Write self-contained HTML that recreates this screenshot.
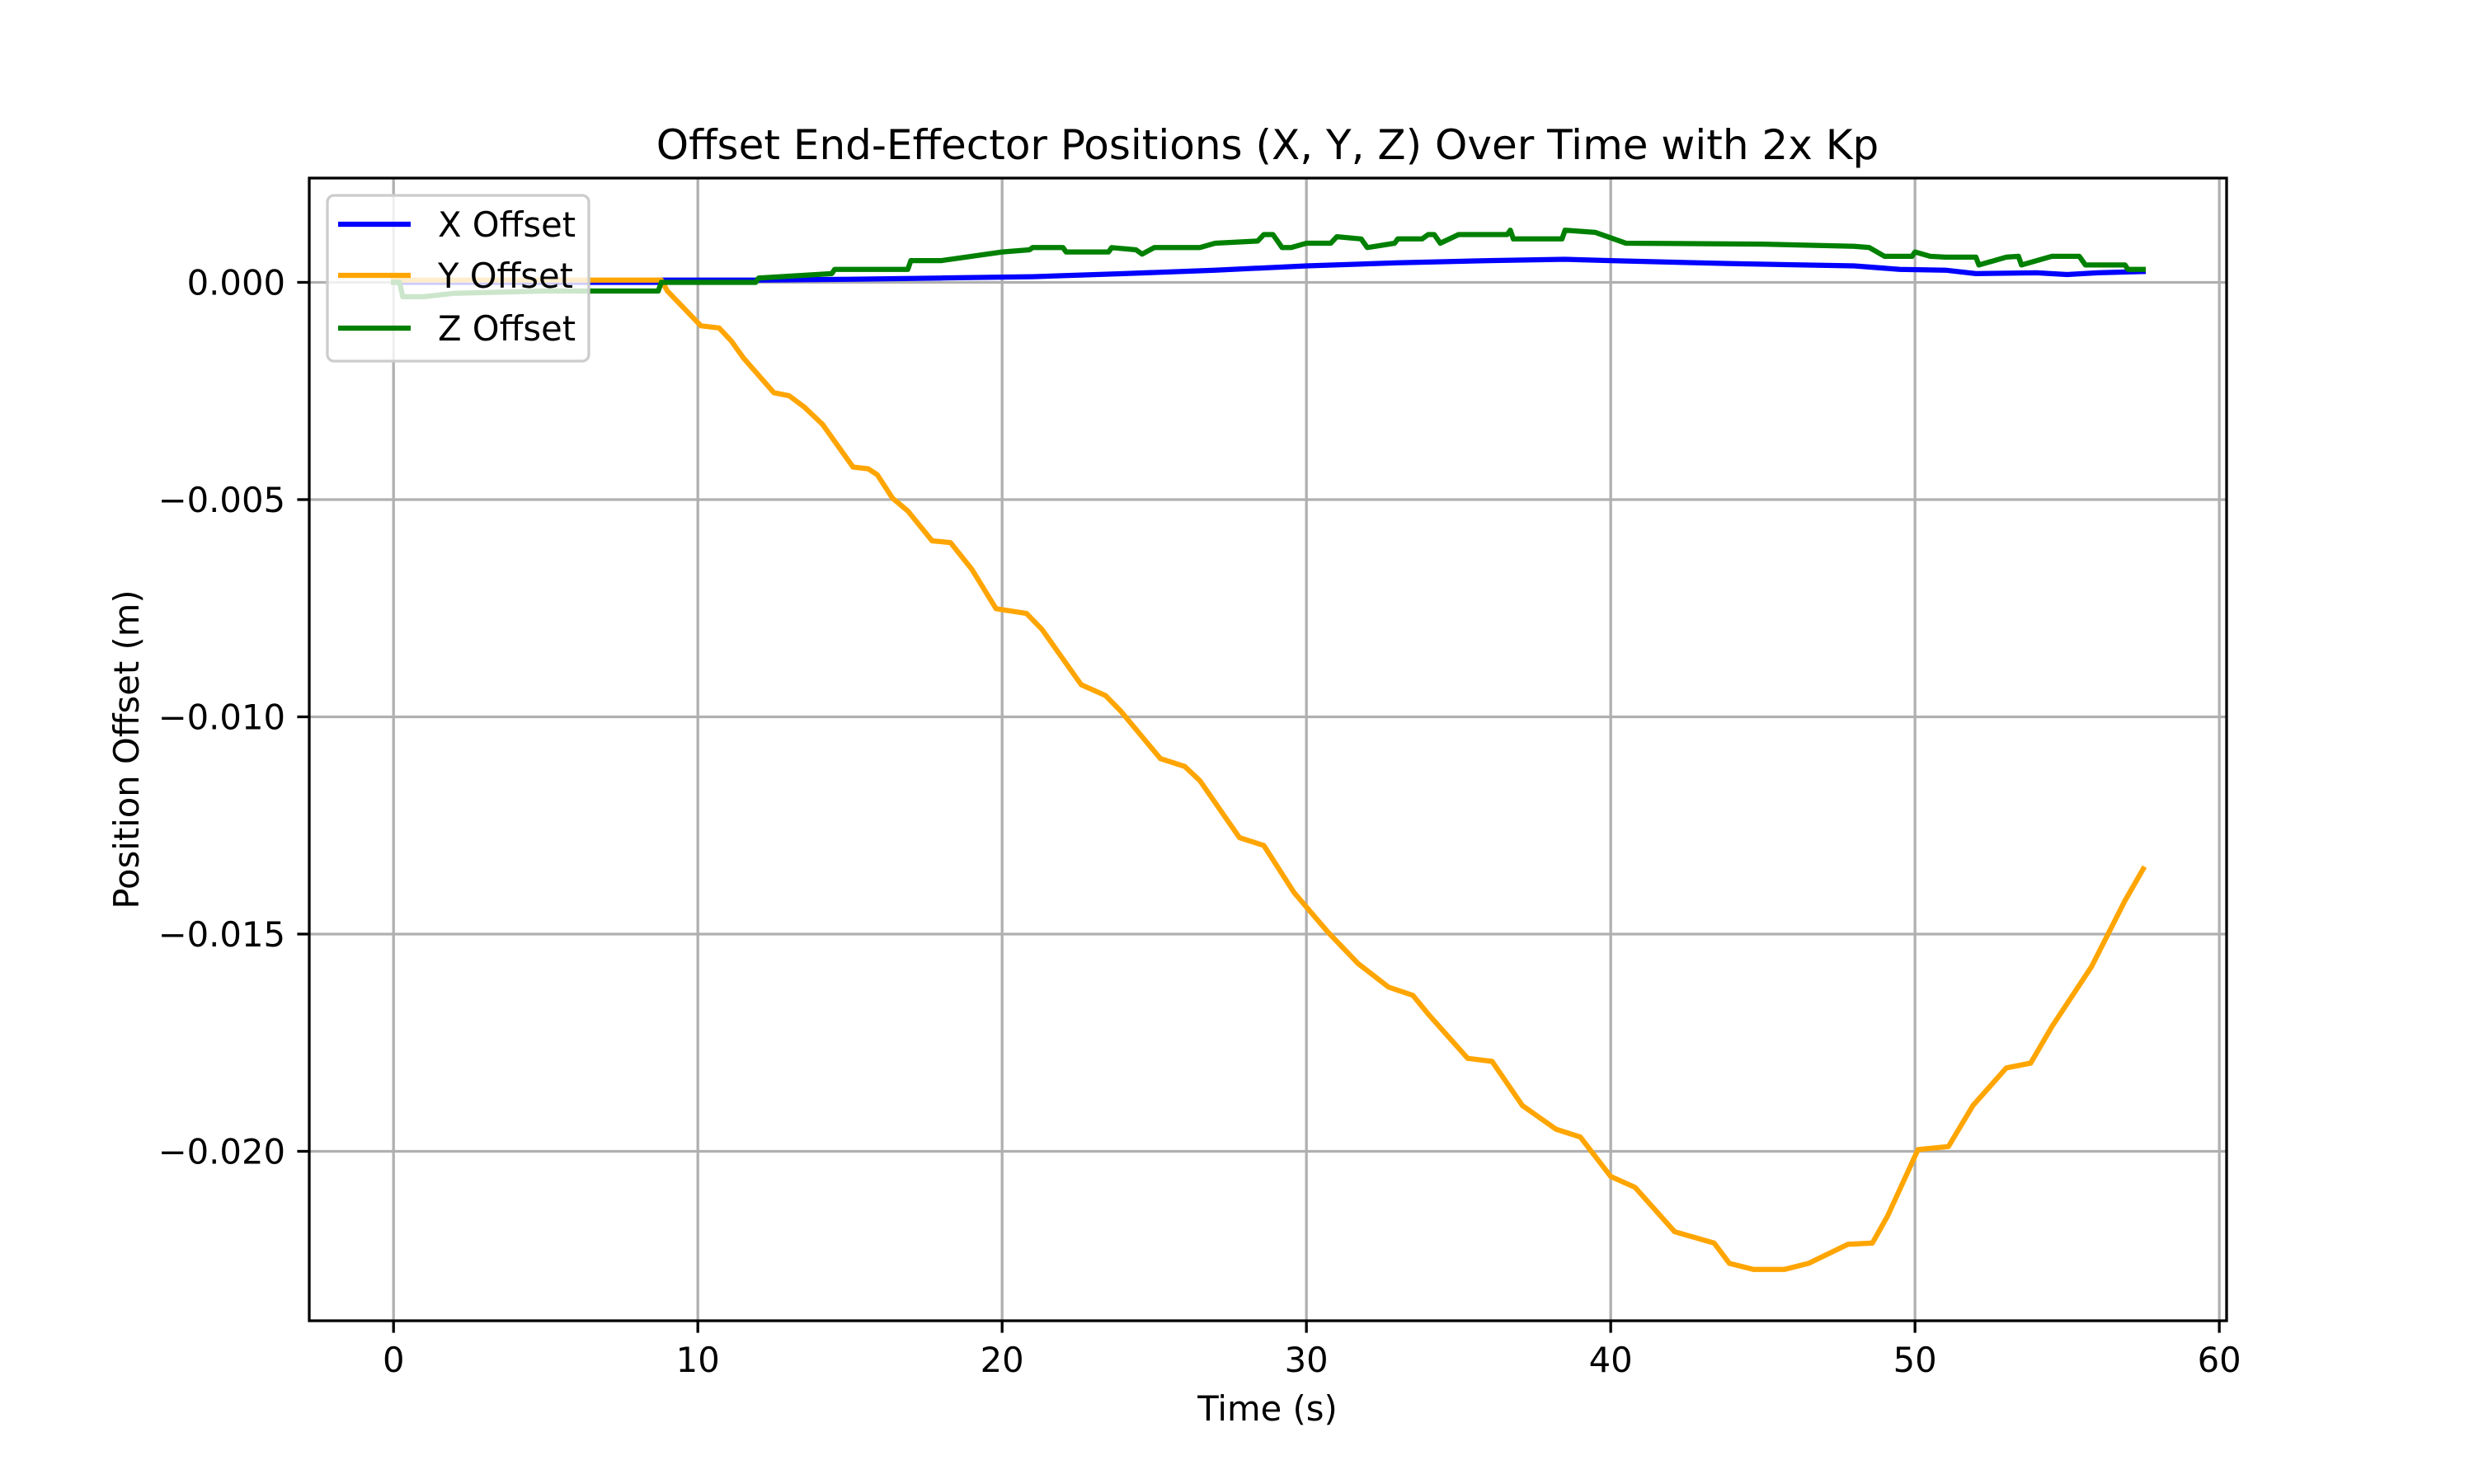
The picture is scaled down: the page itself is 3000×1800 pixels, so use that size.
<!DOCTYPE html>
<html><head><meta charset="utf-8"><style>html,body{margin:0;padding:0;background:#fff}svg{display:block}text{font-family:"DejaVu Sans","Liberation Sans",sans-serif;fill:#000}</style></head>
<body>
<svg id="chart" width="3000" height="1800" viewBox="0 0 3000 1800" xmlns="http://www.w3.org/2000/svg">
<rect width="3000" height="1800" fill="#fff"/>
<text x="1537" y="193" font-size="50" text-anchor="middle">Offset End-Effector Positions (X, Y, Z) Over Time with 2x Kp</text>
<g id="grid"></g><g id="series"></g><g id="axes"></g><g id="legend"></g>
<text x="1537" y="1723" font-size="41.7" text-anchor="middle">Time (s)</text>
<text transform="translate(168,909) rotate(-90)" font-size="41.7" text-anchor="middle">Position Offset (m)</text>
</svg>
<script>
const xTicks=[0,10,20,30,40,50,60];
const yTicks=[0.000,-0.005,-0.010,-0.015,-0.020];
const yTickLabels=["0.000","\u22120.005","\u22120.010","\u22120.015","\u22120.020"];
const tY=[0,8.8,9.0,10.1,10.7,11.1,11.5,12.5,13.0,13.5,14.1,15.1,15.6,15.9,16.4,16.9,17.7,18.3,19.0,19.8,20.8,21.3,22.6,23.4,23.9,25.2,26.0,26.5,27.8,28.6,29.6,30.7,31.7,32.7,33.5,34.0,35.3,36.1,37.1,38.2,39.0,40.0,40.8,42.1,43.4,43.9,44.7,45.7,46.5,47.8,48.6,49.1,50.1,51.1,51.9,53.0,53.8,54.5,55.8,56.9,57.5];
const vY=[0.00005,0.00005,-0.0002,-0.001,-0.00105,-0.00135,-0.00174,-0.00254,-0.00261,-0.00287,-0.00327,-0.00425,-0.00429,-0.00443,-0.00497,-0.00526,-0.00595,-0.00599,-0.00660,-0.00751,-0.00762,-0.00798,-0.00926,-0.00951,-0.00987,-0.01096,-0.01114,-0.01147,-0.01278,-0.01296,-0.01405,-0.01495,-0.01568,-0.01622,-0.01641,-0.01684,-0.01786,-0.01793,-0.01895,-0.01949,-0.01967,-0.02058,-0.02083,-0.02185,-0.02211,-0.02258,-0.02272,-0.02272,-0.02258,-0.02214,-0.02211,-0.02149,-0.01996,-0.01989,-0.01895,-0.01808,-0.01797,-0.01713,-0.01575,-0.01423,-0.0135];
const tX=[0,8.7,8.8,12,15,18,21,24,27,30,33,36,38.5,40,44,48,49.5,51,52,54,55,56,57.5];
const vX=[0,0,0.00005,0.00005,0.00007,0.0001,0.00013,0.0002,0.00028,0.00038,0.00045,0.0005,0.00053,0.0005,0.00043,0.00038,0.0003,0.00028,0.0002,0.00022,0.00018,0.00022,0.00025];
const tZ=[0,0.2,0.3,1.0,2.0,5.0,8.7,8.8,11.9,12.0,14.4,14.5,16.9,17.0,18.0,20.0,20.9,21.0,22.0,22.1,23.5,23.6,24.4,24.6,25.0,26.5,27.0,28.4,28.6,28.9,29.2,29.5,30.0,30.8,31.0,31.8,32.0,32.9,33.0,33.8,34.0,34.2,34.4,35.0,36.6,36.7,36.8,38.4,38.5,39.5,40.5,45.0,48.0,48.5,49.0,49.9,50.0,50.5,51.0,52.0,52.1,53.0,53.4,53.5,54.5,55.4,55.6,56.9,57.0,57.5];
const vZ=[0,0,-0.00033,-0.00033,-0.00025,-0.0002,-0.0002,0,0,0.0001,0.0002,0.0003,0.0003,0.0005,0.0005,0.0007,0.00075,0.0008,0.0008,0.0007,0.0007,0.0008,0.00075,0.00065,0.0008,0.0008,0.0009,0.00095,0.0011,0.0011,0.0008,0.0008,0.0009,0.0009,0.00105,0.001,0.0008,0.0009,0.001,0.001,0.0011,0.0011,0.0009,0.0011,0.0011,0.0012,0.001,0.001,0.0012,0.00115,0.0009,0.00088,0.00083,0.0008,0.0006,0.0006,0.0007,0.0006,0.00058,0.00058,0.0004,0.00058,0.0006,0.0004,0.0006,0.0006,0.0004,0.0004,0.0003,0.0003];
const L=375,R=2700,T=216,B=1602,XMIN=-2.77,XMAX=60.24,YMIN=-0.0239,YMAX=0.0024;
const NS="http://www.w3.org/2000/svg";
function xs(v){return L+(v-XMIN)/(XMAX-XMIN)*(R-L);}
function ys(v){return B-(v-YMIN)/(YMAX-YMIN)*(B-T);}
function mk(tag,attrs,parent){const e=document.createElementNS(NS,tag);for(const k in attrs)e.setAttribute(k,attrs[k]);parent.appendChild(e);return e;}
const grid=document.getElementById('grid'),axes=document.getElementById('axes'),series=document.getElementById('series'),legend=document.getElementById('legend');
xTicks.forEach(v=>{const x=xs(v);
 const g=mk('line',{x1:x,x2:x,y1:T,y2:B,stroke:'#b0b0b0','stroke-width':3.3},grid);
 
 
 const t=mk('line',{x1:x,x2:x,y1:B,y2:B+14.6,stroke:'#000','stroke-width':3.3},axes);
 
 
 const l=mk('text',{x:x,y:B+62,'font-size':41.7,'text-anchor':'middle'},axes);l.textContent=String(v);
 
 
});
yTicks.forEach((v,i)=>{const y=ys(v);
 const g=mk('line',{x1:L,x2:R,y1:y,y2:y,stroke:'#b0b0b0','stroke-width':3.3},grid);
 
 
 const t=mk('line',{x1:L-14.6,x2:L,y1:y,y2:y,stroke:'#000','stroke-width':3.3},axes);
 
 
 const l=mk('text',{x:L-29,y:y+15,'font-size':41.7,'text-anchor':'end'},axes);l.textContent=yTickLabels[i];
 
 
});
const fr=mk('rect',{x:L,y:T,width:R-L,height:B-T,fill:'none',stroke:'#000','stroke-width':3.3},axes);


function line(ts,vs,color,name){const d=ts.map((t,i)=>(i?'L':'M')+xs(t).toFixed(1)+' '+ys(vs[i]).toFixed(1)).join(' ');
 const p=mk('path',{d:d,fill:'none',stroke:color,'stroke-width':6.25,'stroke-linejoin':'round','stroke-linecap':'square'},series);
 
 }
line(tX,vX,'#0000ff','x-offset-line');
line(tY,vY,'#ffa500','y-offset-line');
line(tZ,vZ,'#008000','z-offset-line');
const lb=mk('rect',{x:397,y:237,width:317,height:201,rx:8,fill:'#fff','fill-opacity':0.8,stroke:'#cccccc','stroke-width':3.3},legend);


[['X Offset','#0000ff',272],['Y Offset','#ffa500',334],['Z Offset','#008000',398]].forEach(([n,c,y])=>{
 const h=mk('line',{x1:410,x2:498,y1:y,y2:y,stroke:c,'stroke-width':6.25},legend);
 
 
 const t=mk('text',{x:531,y:y+15,'font-size':41.7},legend);t.textContent=n;
 
 
});
</script>
</body></html>
